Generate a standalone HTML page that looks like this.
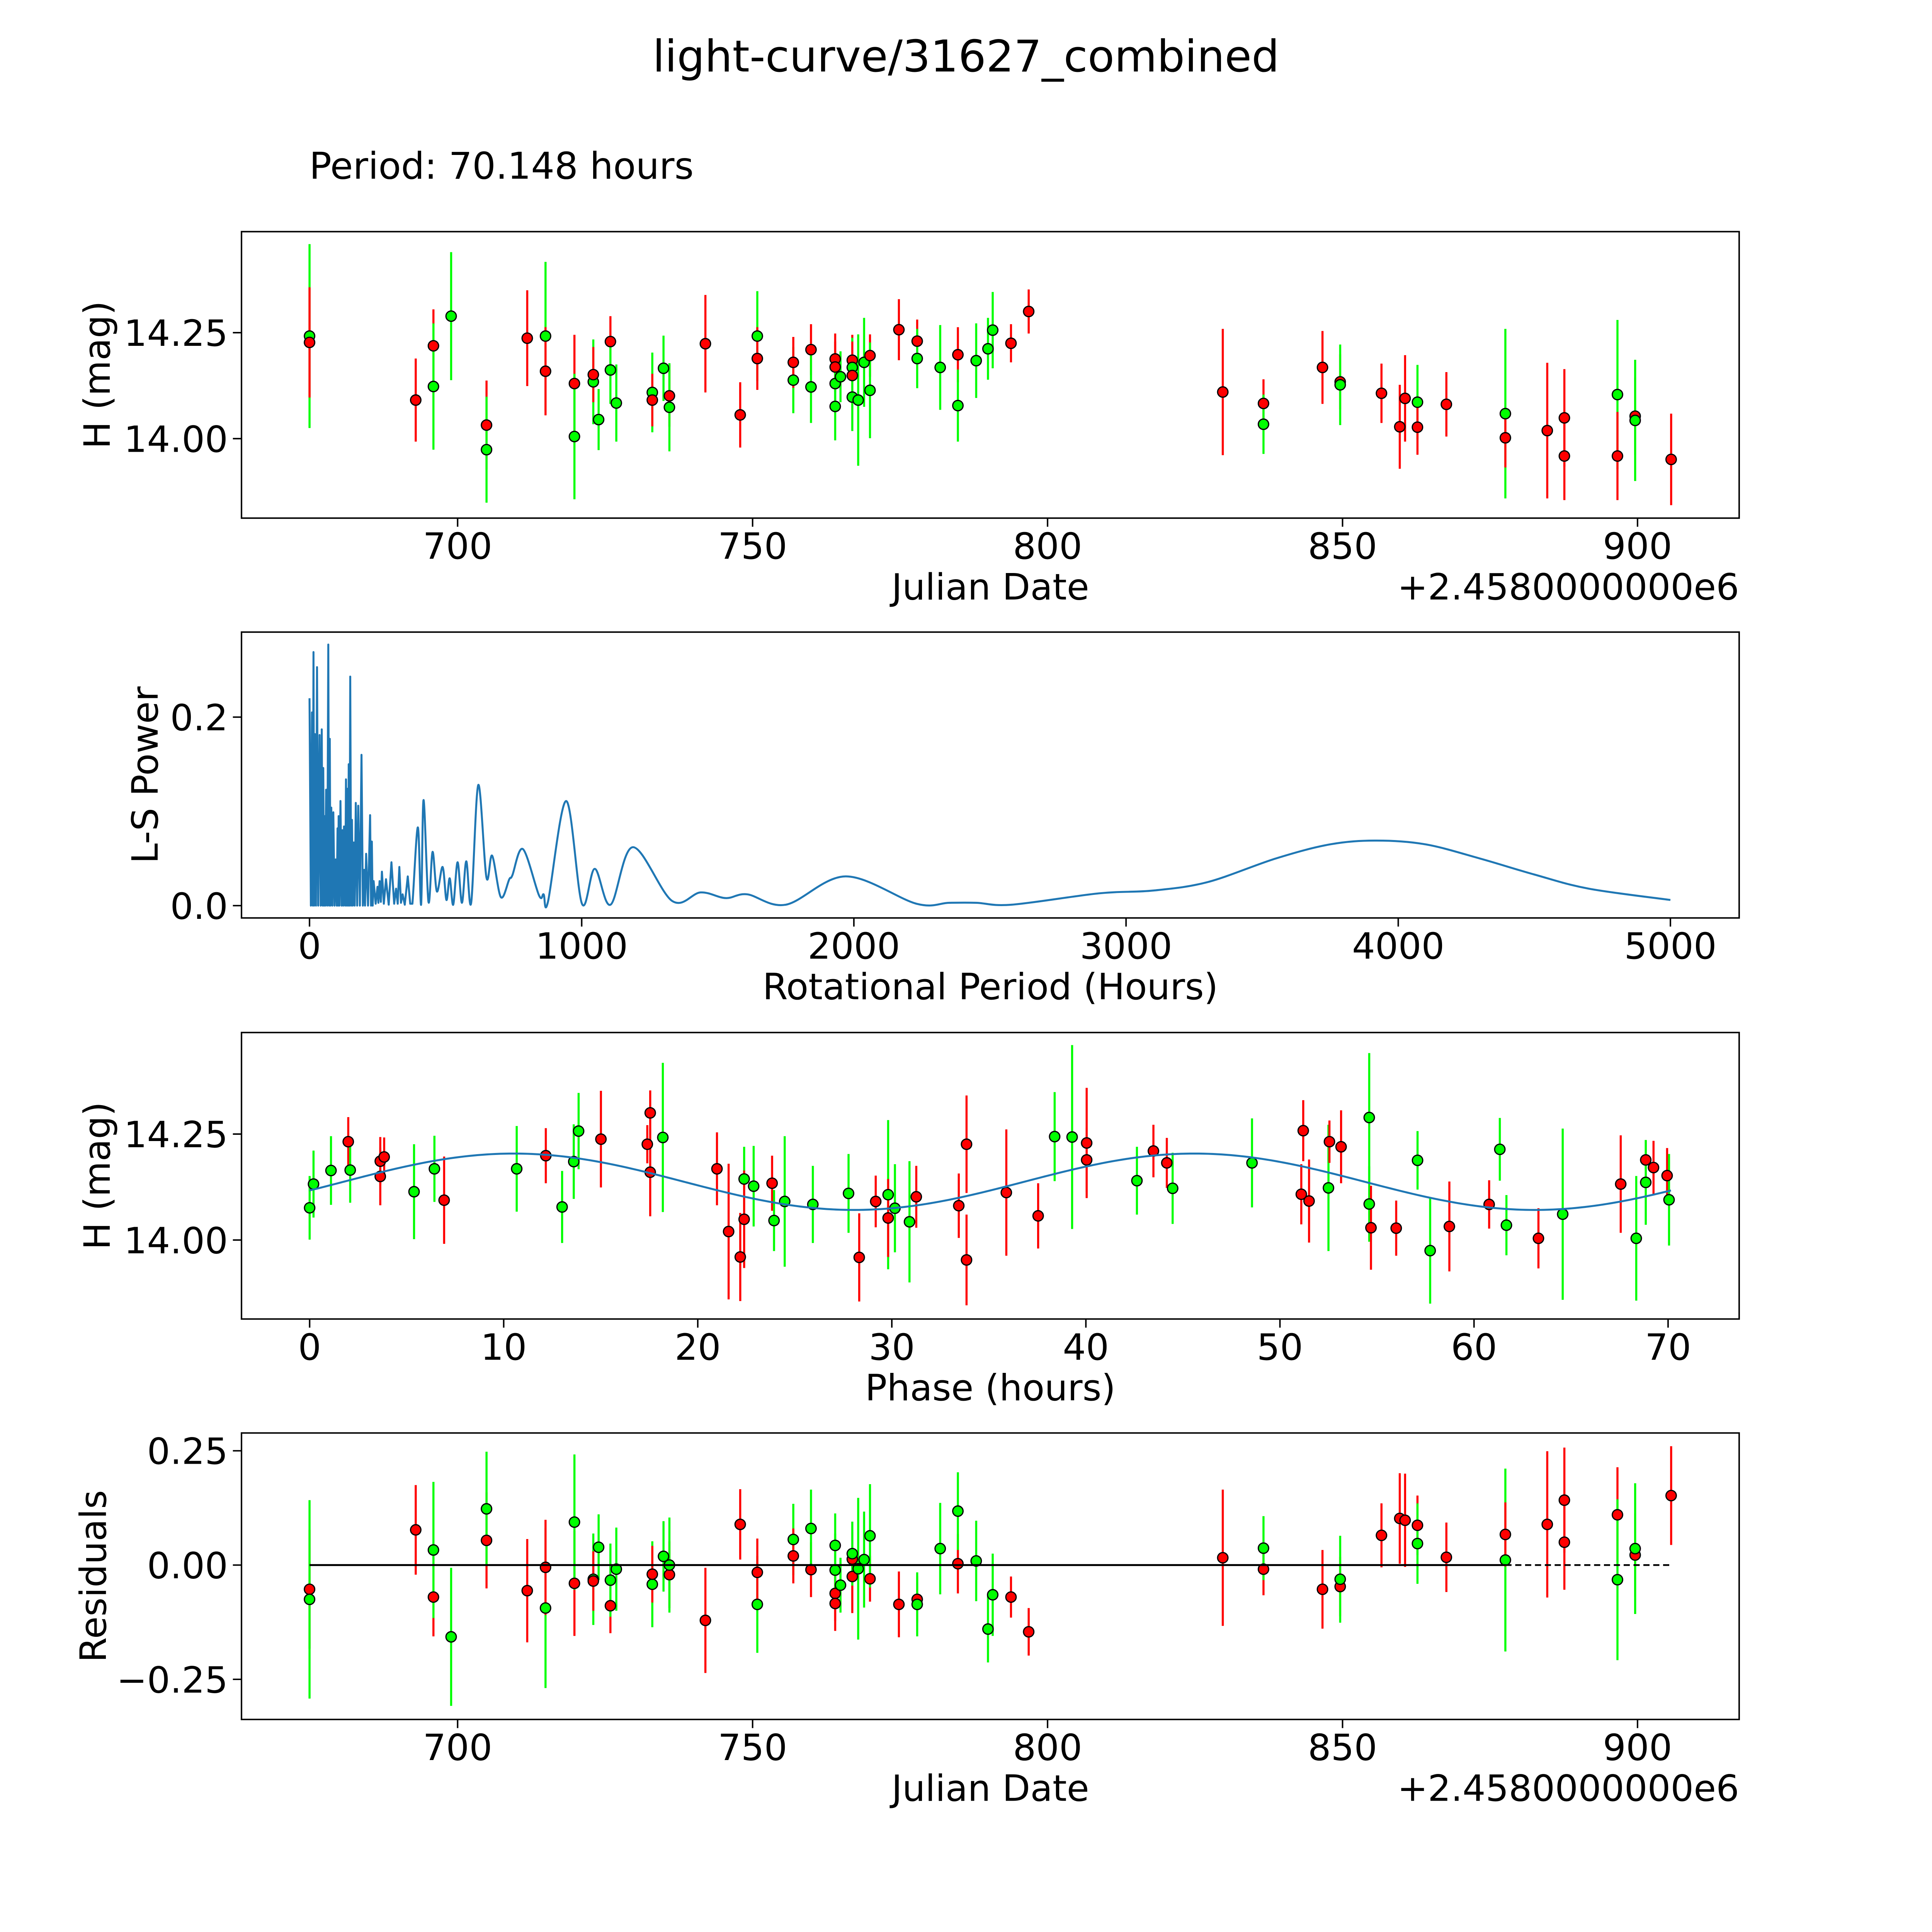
<!DOCTYPE html>
<html><head><meta charset="utf-8"><title>light-curve/31627_combined</title>
<style>html,body{margin:0;padding:0;background:#fff;overflow:hidden;width:100vw;height:100vh}svg{display:block;width:100vw;height:100vh}text{font-family:"DejaVu Sans","Liberation Sans",sans-serif;fill:#000}</style>
</head><body>
<svg id="fig" xmlns="http://www.w3.org/2000/svg" viewBox="0 0 1568 1568" preserveAspectRatio="none">
<rect x="0" y="0" width="1568" height="1568" fill="#fff"/>
<text x="784" y="58" font-size="35.5" text-anchor="middle">light-curve/31627_combined</text>
<text x="251" y="145" font-size="30">Period: 70.148 hours</text>
<g id="p1"></g>
<g id="p2"></g>
<g id="p3"></g>
<g id="p4"></g>
</svg>
<script>
// ---- Panel 1: light curve ----
const lcDays=[674.9,674.9,692.9,695.9,695.9,698.9,704.9,704.9,711.8,714.9,714.9,719.8,719.8,723.0,723.0,723.9,725.9,725.9,726.9,733.0,733.0,734.9,735.9,735.9,742.0,747.9,750.8,750.8,756.9,756.9,759.9,759.9,764.0,764.0,764.0,764.0,764.9,766.9,766.9,766.9,766.9,767.9,768.9,769.9,769.9,774.8,777.9,777.9,781.8,784.8,784.8,787.9,789.9,790.7,793.8,796.8,829.7,836.6,836.6,846.6,849.6,849.6,856.6,859.7,860.6,862.7,862.7,867.6,877.6,877.6,884.7,887.6,887.6,896.6,896.6,899.6,899.6,905.7];
const lcMags=[14.242,14.227,14.091,14.219,14.123,14.289,14.032,13.974,14.237,14.242,14.159,14.130,14.005,14.134,14.151,14.045,14.229,14.162,14.084,14.109,14.091,14.166,14.101,14.074,14.224,14.056,14.242,14.189,14.138,14.180,14.210,14.122,14.188,14.169,14.130,14.076,14.146,14.185,14.168,14.149,14.098,14.091,14.180,14.196,14.114,14.257,14.230,14.189,14.168,14.198,14.078,14.184,14.212,14.256,14.225,14.300,14.110,14.083,14.034,14.168,14.134,14.127,14.107,14.028,14.095,14.086,14.027,14.081,14.059,14.002,14.019,14.049,13.959,14.104,13.959,14.053,14.043,13.951];
const lcErrs=[0.217,0.130,0.098,0.086,0.149,0.151,0.105,0.125,0.113,0.175,0.104,0.115,0.148,0.10,0.065,0.072,0.06,0.08,0.091,0.094,0.062,0.077,0.073,0.104,0.115,0.077,0.106,0.074,0.078,0.06,0.06,0.085,0.06,0.06,0.07,0.08,0.06,0.06,0.07,0.08,0.08,0.155,0.105,0.05,0.113,0.072,0.051,0.07,0.10,0.065,0.085,0.088,0.073,0.09,0.045,0.052,0.149,0.057,0.07,0.086,0.065,0.095,0.07,0.099,0.102,0.088,0.065,0.076,0.2,0.07,0.16,0.115,0.104,0.176,0.104,0.091,0.143,0.108];
const lcBands=['g','r','r','r','g','g','r','g','r','g','r','r','g','g','r','g','r','g','g','g','r','g','r','g','r','r','g','r','g','r','r','g','r','r','g','g','g','r','g','r','g','g','g','r','g','r','r','g','g','r','g','g','g','g','r','r','r','r','g','r','r','g','r','r','r','g','r','r','g','r','r','r','r','g','r','r','g','r'];
const jdTicks=[700,750,800,850,900];
const magTicks=[14.00,14.25];

// ---- Panel 2: Lomb-Scargle periodogram ----
const lsPeriods=[0,5,9,12,14.6,17,20,24,27.6,32,37,41,45,48,50.5,53,56,58,61,65,69,72,74.5,77,80,84,87.5,92,96,100,103,105,107,110,113.7,118,121,124,126.7,131,134,137,139.8,142,144,147,149.6,153,156,159,162.7,166,170,175,179,185,191,196,201,204,208,215,222.6,226,229,232,235.6,243,249.8,253,257.4,262,266,273,281,291,301,311,318,324,330,336,342,350,361,370,378,398,410,419,437,452,468,489,503,515,528,544,560,576,594,620,650,671,703,734,745,784,843,860,876,943,1001,1048,1106,1188,1332,1437,1529,1608,1750,1970,2230,2350,2450,2580,2900,3100,3300,3550,3750,3920,4100,4300,4500,4700,5000];
const lsPowers=[0.220,0,0.205,0,0.269,0,0.182,0,0.253,0,0.181,0,0.187,0,0.146,0,0.095,0,0.123,0,0.277,0,0.177,0,0.104,0,0.099,0,0.049,0,0.082,0,0.095,0,0.111,0,0.080,0,0.084,0,0.134,0,0.124,0,0.150,0,0.243,0,0.091,0,0.067,0,0.109,0,0.106,0,0.160,0,0.038,0,0.055,0,0.096,0,0.068,0,0.026,0.002,0.020,0.003,0.026,0.004,0.036,0.002,0.028,0.001,0.046,0.002,0.018,0.002,0.041,0.003,0.012,0.001,0.031,0.002,0.002,0.083,0.001,0.112,0.004,0.057,0.015,0.041,0.006,0.029,0.001,0.046,0.003,0.047,0.003,0.128,0.030,0.053,0.009,0.028,0.032,0.060,0.011,0.012,0.004,0.111,0.002,0.039,0.001,0.062,0.005,0.014,0.008,0.012,0.001,0.031,0.002,0.003,0.003,0.001,0.013,0.016,0.025,0.050,0.065,0.069,0.065,0.050,0.033,0.018,0.006];
const periodTicks=[0,1000,2000,3000,4000,5000];
const powerTicks=[0.0,0.2];

// ---- Panel 3: phase-folded ----
const phHours=[0,0.20,1.10,1.99,2.09,3.64,3.64,3.84,5.38,6.43,6.93,10.67,12.17,13.01,13.61,13.86,15.01,17.40,17.55,17.55,18.20,20.99,21.59,22.19,22.39,22.39,22.88,23.83,23.93,24.48,25.93,27.77,28.32,29.17,29.81,29.81,30.16,30.91,31.26,33.45,33.85,33.85,35.90,37.54,38.39,39.29,40.04,40.04,42.63,43.48,44.17,44.47,48.56,51.10,51.20,51.50,52.50,52.55,53.15,54.60,54.60,54.69,55.99,57.09,57.74,58.73,60.78,61.33,61.67,63.32,64.57,67.56,68.36,68.85,68.85,69.25,69.95,70.05];
const phMags=[14.076,14.132,14.164,14.232,14.165,14.186,14.150,14.196,14.114,14.168,14.094,14.168,14.199,14.078,14.185,14.257,14.238,14.226,14.300,14.160,14.242,14.168,14.020,13.960,14.144,14.049,14.127,14.134,14.046,14.091,14.084,14.110,13.959,14.091,14.107,14.052,14.075,14.043,14.102,14.081,14.226,13.953,14.112,14.057,14.244,14.243,14.229,14.189,14.140,14.210,14.182,14.122,14.182,14.108,14.258,14.092,14.123,14.232,14.220,14.289,14.085,14.029,14.028,14.188,13.975,14.032,14.084,14.214,14.035,14.004,14.061,14.132,14.004,14.189,14.136,14.171,14.152,14.095];
const phErrs=[0.075,0.079,0.081,0.058,0.077,0.057,0.068,0.046,0.112,0.078,0.103,0.101,0.065,0.085,0.088,0.090,0.114,0.045,0.053,0.104,0.176,0.086,0.160,0.104,0.076,0.115,0.095,0.065,0.072,0.154,0.091,0.093,0.104,0.061,0.176,0.092,0.104,0.143,0.073,0.076,0.115,0.107,0.149,0.077,0.105,0.217,0.130,0.076,0.080,0.062,0.059,0.084,0.105,0.071,0.072,0.098,0.149,0.050,0.086,0.152,0.089,0.099,0.065,0.069,0.125,0.106,0.057,0.074,0.071,0.071,0.202,0.115,0.147,0.046,0.100,0.063,0.065,0.108];
const phBands=['g','g','g','r','g','r','r','r','g','g','r','g','r','g','g','g','r','r','r','r','g','r','r','r','g','r','g','r','g','g','g','g','r','r','g','r','g','g','r','r','r','r','r','r','g','g','r','r','g','r','r','g','g','r','r','r','g','r','r','g','g','r','r','g','g','r','r','g','g','r','g','r','g','r','g','r','r','g'];
const phaseTicks=[0,10,20,30,40,50,60,70];
const fitParams=[14.1375,0.0665,10.52,35.074]; // mean, amplitude, peak phase, half period

// ---- Panel 4: residuals ----
const resDays=[674.9,674.9,692.9,695.9,695.9,698.9,704.9,704.9,711.8,714.9,714.9,719.8,719.8,723.0,723.0,723.9,725.9,725.9,726.9,733.0,733.0,734.9,735.9,735.9,742.0,747.9,750.8,750.8,756.9,756.9,759.9,759.9,764.0,764.0,764.0,764.0,764.9,766.9,766.9,766.9,767.9,768.9,769.9,769.9,774.8,777.9,777.9,781.8,784.8,784.8,787.9,789.9,790.7,793.8,796.8,829.7,836.6,836.6,846.6,849.6,849.6,856.6,859.7,860.6,862.7,862.7,867.6,877.6,877.6,884.7,887.6,887.6,896.6,896.6,899.6,899.6,905.7];
const resVals=[-0.053,-0.075,0.077,-0.070,0.033,-0.157,0.054,0.123,-0.056,-0.094,-0.005,-0.040,0.094,-0.031,-0.035,0.039,-0.089,-0.033,-0.009,-0.042,-0.020,0.019,-0.021,0.000,-0.121,0.089,-0.086,-0.016,0.056,0.020,-0.010,0.080,-0.062,-0.084,0.043,-0.011,-0.044,0.013,-0.025,0.025,-0.008,0.012,-0.030,0.064,-0.086,-0.075,-0.086,0.036,0.003,0.118,0.009,-0.140,-0.065,-0.070,-0.146,0.016,-0.009,0.037,-0.053,-0.047,-0.031,0.065,0.102,0.098,0.087,0.047,0.017,0.011,0.067,0.089,0.142,0.050,0.110,-0.032,0.022,0.036,0.152];
const resErrs=[0.130,0.217,0.098,0.086,0.149,0.151,0.105,0.125,0.113,0.175,0.104,0.115,0.148,0.10,0.065,0.072,0.06,0.08,0.091,0.094,0.062,0.077,0.073,0.104,0.115,0.077,0.106,0.074,0.078,0.06,0.06,0.085,0.06,0.06,0.07,0.08,0.06,0.06,0.08,0.07,0.155,0.105,0.05,0.113,0.072,0.051,0.07,0.10,0.065,0.085,0.088,0.073,0.09,0.045,0.052,0.149,0.057,0.07,0.086,0.065,0.095,0.07,0.099,0.102,0.065,0.088,0.076,0.2,0.07,0.16,0.115,0.104,0.104,0.176,0.091,0.143,0.108];
const resBands=['r','g','r','r','g','g','r','g','r','g','r','r','g','g','r','g','r','g','g','g','r','g','r','g','r','r','g','r','g','r','r','g','r','r','g','g','g','r','r','g','g','g','r','g','r','r','g','g','r','g','g','g','g','r','r','r','r','g','r','r','g','r','r','r','r','g','r','g','r','r','r','r','r','g','r','g','r'];
const resTicks=[-0.25,0.00,0.25];

const NS='http://www.w3.org/2000/svg';
function mk(parent,tag,attrs,txt){const e=document.createElementNS(NS,tag);for(const k in attrs)e.setAttribute(k,attrs[k]);if(txt!==undefined)e.textContent=txt;parent.appendChild(e);return e;}
const L=196,R=1411.5;
const xJD=d=>371.4+(d-700)*4.788;
const xPer=p=>251.2+p*0.2209;
const xPh=h=>251.3+h*15.75;
const panels={p1:{top:188,bot:420.5},p2:{top:513,bot:745},p3:{top:838,bot:1070.5},p4:{top:1163,bot:1395.5}};
const yMag1=m=>356.0-(m-14)*344;
const yPow=v=>735-v*765;
const yMag3=m=>1006.4-(m-14)*344;
const yRes=r=>1270.2-r*371;
const COL={r:'#ff0000',g:'#00ff00'};

function frame(g,P,xt,xf,xlab,yt,yf,ylab,ylabX,ylabFmt,offset){
  const f=mk(g,'rect',{x:L,y:P.top,width:R-L,height:P.bot-P.top,fill:'none',stroke:'#000','stroke-width':1.2});
  
  
  xt.forEach(t=>{const x=xf(t);
    const tk=mk(g,'line',{x1:x,x2:x,y1:P.bot,y2:P.bot+7,stroke:'#000','stroke-width':1.2});
    
    
    const tl=mk(g,'text',{x:x,y:P.bot+33,'font-size':29.5,'text-anchor':'middle'},String(t));
    
    });
  yt.forEach(t=>{const y=yf(t);
    const tk=mk(g,'line',{x1:L-7,x2:L,y1:y,y2:y,stroke:'#000','stroke-width':1.2});
    
    
    const tl=mk(g,'text',{x:L-11,y:y+10.7,'font-size':29.5,'text-anchor':'end'},ylabFmt(t));
    
    });
  const xl=mk(g,'text',{x:(L+R)/2,y:P.bot+66,'font-size':29.5,'text-anchor':'middle'},xlab);
  
  
  const yc=(P.top+P.bot)/2;
  const yl=mk(g,'text',{x:ylabX,y:yc,'font-size':29.5,'text-anchor':'middle',transform:`rotate(-90 ${ylabX} ${yc})`},ylab);
  
  
  if(offset){const o=mk(g,'text',{x:R,y:P.bot+66,'font-size':29.5,'text-anchor':'end'},offset);
    
    }
}
function points(g,xs,ys,es,bs,xf,yf){
  for(let i=0;i<xs.length;i++){const x=xf(xs[i]),c=COL[bs[i]];
    const b=mk(g,'line',{x1:x,x2:x,y1:yf(ys[i]-es[i]),y2:yf(ys[i]+es[i]),stroke:c,'stroke-width':1.7});
    
    }
  for(let i=0;i<xs.length;i++){const x=xf(xs[i]),c=COL[bs[i]];
    const m=mk(g,'circle',{cx:x,cy:yf(ys[i]),r:4.2,fill:c,stroke:'#000','stroke-width':1});
    
    }
}
const f2=t=>t.toFixed(2), f1=t=>t.toFixed(1);
const fr=t=>(t<0?'\u2212':'')+Math.abs(t).toFixed(2);

// Panel 1
const g1=document.getElementById('p1');
points(g1,lcDays,lcMags,lcErrs,lcBands,xJD,yMag1);
frame(g1,panels.p1,jdTicks,xJD,'Julian Date',magTicks,yMag1,'H (mag)',89,f2,'+2.4580000000e6');

// Panel 2
const g2=document.getElementById('p2');
(function(){
  const P=lsPeriods.map((p,i)=>[xPer(p),yPow(lsPowers[i])]);
  let d='M'+P[0][0].toFixed(2)+','+P[0][1].toFixed(2);
  for(let i=1;i<P.length;i++){
    if(lsPeriods[i]<=380){d+=' L'+P[i][0].toFixed(2)+','+P[i][1].toFixed(2);}
    else{const p0=P[Math.max(i-2,0)],p1=P[i-1],p2=P[i],p3=P[Math.min(i+1,P.length-1)];
      const c1=[p1[0]+(p2[0]-p0[0])/6,p1[1]+(p2[1]-p0[1])/6],c2=[p2[0]-(p3[0]-p1[0])/6,p2[1]-(p3[1]-p1[1])/6];
      d+=` C${c1[0].toFixed(2)},${c1[1].toFixed(2)} ${c2[0].toFixed(2)},${c2[1].toFixed(2)} ${p2[0].toFixed(2)},${p2[1].toFixed(2)}`;}
  }
  const ln=mk(g2,'path',{d:d,fill:'none',stroke:'#1f77b4','stroke-width':1.6,'stroke-linejoin':'round'});
  
  
})();
frame(g2,panels.p2,periodTicks,xPer,'Rotational Period (Hours)',powerTicks,yPow,'L-S Power',128,f1,null);

// Panel 3
const g3=document.getElementById('p3');
points(g3,phHours,phMags,phErrs,phBands,xPh,yMag3);
(function(){
  const [mu,amp,pk,hp]=fitParams;let d='';
  for(let k=0;k<=300;k++){const h=70.148*k/300;const m=mu+amp*Math.cos(2*Math.PI*(h-pk)/hp);
    d+=(k?' L':'M')+xPh(h).toFixed(2)+','+yMag3(m).toFixed(2);}
  const c=mk(g3,'path',{d:d,fill:'none',stroke:'#1f77b4','stroke-width':1.6});
  
  
})();
frame(g3,panels.p3,phaseTicks,xPh,'Phase (hours)',magTicks,yMag3,'H (mag)',89,f2,null);

// Panel 4
const g4=document.getElementById('p4');
points(g4,resDays,resVals,resErrs,resBands,xJD,yRes);
(function(){
  const z1=mk(g4,'line',{x1:xJD(resDays[0]),x2:xJD(877.6),y1:yRes(0),y2:yRes(0),stroke:'#000','stroke-width':1.6});
  
  
  const z2=mk(g4,'line',{x1:xJD(877.6),x2:xJD(resDays[resDays.length-1]),y1:yRes(0),y2:yRes(0),stroke:'#000','stroke-width':1.4,'stroke-dasharray':'5,3'});
  
  
})();
frame(g4,panels.p4,jdTicks,xJD,'Julian Date',resTicks,yRes,'Residuals',86,fr,'+2.4580000000e6');
</script>
</body></html>
